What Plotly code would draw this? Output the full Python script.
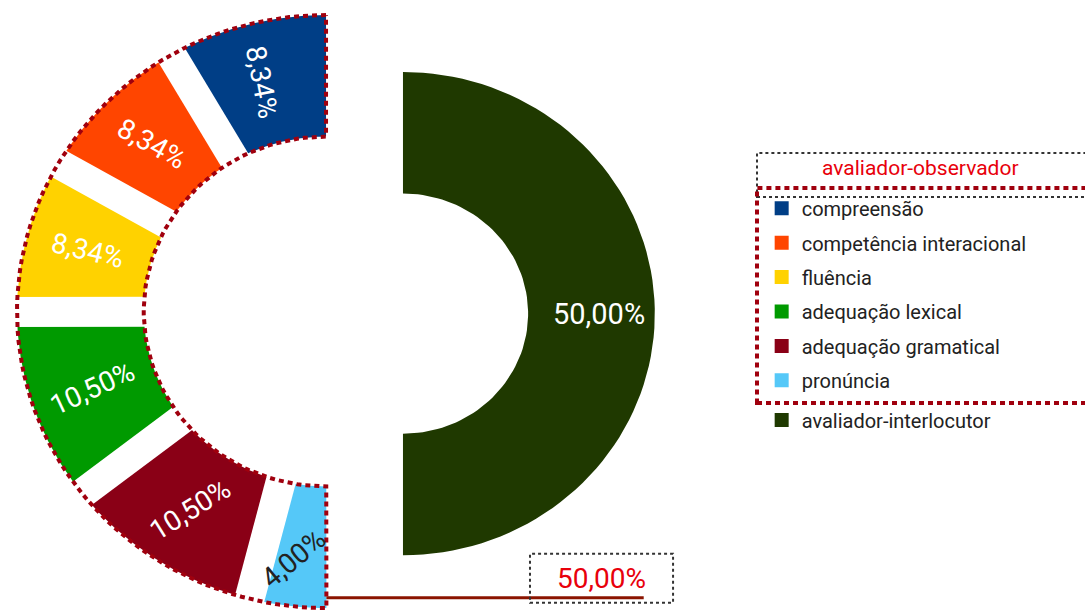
import numpy as np
import plotly.graph_objects as go

# ---------------- data ----------------
categories = ["compreensão", "competência interacional", "fluência",
              "adequação lexical", "adequação gramatical", "pronúncia"]
observer_values = [8.34, 8.34, 8.34, 10.50, 10.50, 4.00]
observer_labels = ["8,34%", "8,34%", "8,34%", "10,50%", "10,50%", "4,00%"]
group_name = "avaliador-observador"
group_total_label = "50,00%"
interlocutor_name = "avaliador-interlocutor"
interlocutor_value = 50.00
interlocutor_label = "50,00%"

# ---------------- style ----------------
colors = ["#003E86", "#FF4500", "#FFD200", "#009A00", "#8A0016", "#55C8F8"]
interlocutor_color = "#1F3900"
label_colors = ["white", "white", "white", "white", "white", "#222222"]
label_angles = [79, 29, 13, -25, -32, -40]
label_radius = [0.80, 0.80, 0.80, 0.80, 0.80, 0.84]
FONT = "Roboto, sans-serif"
OUTLINE = "#A0000E"

DEG_PER_PCT = 3.6
L_CX, L_CY, L_RO, L_RI = 0.0, 0.0, 1.0, 0.59
R_CX, R_CY, R_RO, R_RI = 0.249, -0.007, 0.815, 0.405
R_LABEL_R = 0.635
GAP_PX = 30


def arc(cx, cy, r, t0, t1, sign, n=80):
    t = np.radians(np.linspace(t0, t1, n))
    return cx + sign * r * np.sin(t), cy + r * np.cos(t)


def ring_segment(cx, cy, ro, ri, t0, t1, sign):
    xo, yo = arc(cx, cy, ro, t0, t1, sign)
    xi, yi = arc(cx, cy, ri, t1, t0, sign)
    x = np.concatenate([xo, xi, xo[:1]])
    y = np.concatenate([yo, yi, yo[:1]])
    return x, y


fig = go.Figure()

# left half: avaliador-observador segments
cum = np.concatenate([[0], np.cumsum(observer_values)]) * DEG_PER_PCT
for i, cat in enumerate(categories):
    x, y = ring_segment(L_CX, L_CY, L_RO, L_RI, cum[i], cum[i + 1], -1)
    fig.add_trace(go.Scatter(x=x, y=y, mode="lines", fill="toself",
                             fillcolor=colors[i], line=dict(width=0, color=colors[i]),
                             name=cat, showlegend=False, hoverinfo="name"))

# white gaps between segments
for b in cum[1:-1]:
    t = np.radians(b)
    rr = np.array([L_RI - 0.05, L_RO + 0.05])
    fig.add_trace(go.Scatter(x=L_CX - rr * np.sin(t), y=L_CY + rr * np.cos(t),
                             mode="lines", line=dict(color="white", width=GAP_PX),
                             showlegend=False, hoverinfo="skip"))

# dotted outline of the observer group
x, y = ring_segment(L_CX, L_CY, L_RO, L_RI, cum[0], cum[-1], -1)
fig.add_trace(go.Scatter(x=x, y=y, mode="lines",
                         line=dict(color=OUTLINE, width=4, dash="5px,4px"),
                         showlegend=False, hoverinfo="skip"))

# right half: avaliador-interlocutor
x, y = ring_segment(R_CX, R_CY, R_RO, R_RI, 0, interlocutor_value * DEG_PER_PCT, 1)
fig.add_trace(go.Scatter(x=x, y=y, mode="lines", fill="toself",
                         fillcolor=interlocutor_color,
                         line=dict(width=0, color=interlocutor_color),
                         name=interlocutor_name, showlegend=False, hoverinfo="name"))

# leader line and total label of the observer group
t_end = np.radians(cum[-1])
lead_r = 0.965
lx0 = L_CX - lead_r * np.sin(t_end)
ly0 = L_CY + lead_r * np.cos(t_end)
tot_x, tot_y = 0.893, -0.90
fig.add_trace(go.Scatter(x=[lx0, tot_x + 0.135], y=[ly0, ly0], mode="lines",
                         line=dict(color="#8B1400", width=3),
                         showlegend=False, hoverinfo="skip"))

annotations = []
for i, lab in enumerate(observer_labels):
    tm = np.radians((cum[i] + cum[i + 1]) / 2)
    r = label_radius[i]
    annotations.append(dict(x=L_CX - r * np.sin(tm), y=L_CY + r * np.cos(tm),
                            xref="x", yref="y", text=lab, showarrow=False,
                            textangle=label_angles[i],
                            font=dict(family=FONT, size=28, color=label_colors[i])))

tm = np.radians(interlocutor_value * DEG_PER_PCT / 2)
annotations.append(dict(x=R_CX + R_LABEL_R * np.sin(tm), y=R_CY + R_LABEL_R * np.cos(tm),
                        xref="x", yref="y", text=interlocutor_label, showarrow=False,
                        font=dict(family=FONT, size=29, color="white")))
annotations.append(dict(x=tot_x, y=tot_y, xref="x", yref="y", text=group_total_label,
                        showarrow=False,
                        font=dict(family=FONT, size=28, color="#E8000B")))
annotations.append(dict(x=0.848, y=0.725, xref="paper", yref="paper", text=group_name,
                        xanchor="center", yanchor="middle", showarrow=False,
                        font=dict(family=FONT, size=21, color="#E8000B")))

# legend entries
for i, cat in enumerate(categories):
    fig.add_trace(go.Scatter(x=[None], y=[None], mode="markers",
                             marker=dict(symbol="square", size=14, color=colors[i]),
                             name=cat, legendgroup=cat, legend="legend"))
fig.add_trace(go.Scatter(x=[None], y=[None], mode="markers",
                         marker=dict(symbol="square", size=14, color=interlocutor_color),
                         name=interlocutor_name, legendgroup=interlocutor_name,
                         legend="legend2"))

shapes = [
    dict(type="rect", xref="x", yref="y", x0=0.660, x1=1.123, y0=-0.982, y1=-0.817,
         line=dict(color="#333333", width=2, dash="dot")),
    dict(type="rect", xref="paper", yref="paper", x0=0.6977, x1=1.02,
         y0=0.6776, y1=0.7496, line=dict(color="#333333", width=2, dash="dot")),
    dict(type="rect", xref="paper", yref="paper", x0=0.6977, x1=1.02,
         y0=0.3404, y1=0.6923, line=dict(color=OUTLINE, width=4, dash="5px,4px")),
]

legend_font = dict(family=FONT, size=20, color="#222222")
fig.update_layout(
    width=1085, height=611, autosize=False,
    margin=dict(l=0, r=0, t=0, b=0),
    paper_bgcolor="white", plot_bgcolor="white",
    xaxis=dict(visible=False, range=[-1.055, 2.456], fixedrange=True),
    yaxis=dict(visible=False, range=[-1.010, 1.0506], fixedrange=True),
    showlegend=True,
    legend=dict(x=0.702, y=0.691, xanchor="left", yanchor="top",
                traceorder="grouped", tracegroupgap=5.4, font=legend_font,
                bgcolor="rgba(0,0,0,0)", itemclick=False, itemdoubleclick=False),
    legend2=dict(x=0.702, y=0.3445, xanchor="left", yanchor="top", font=legend_font,
                 bgcolor="rgba(0,0,0,0)", itemclick=False, itemdoubleclick=False),
    annotations=annotations,
    shapes=shapes,
)

fig.write_html("out.html")
